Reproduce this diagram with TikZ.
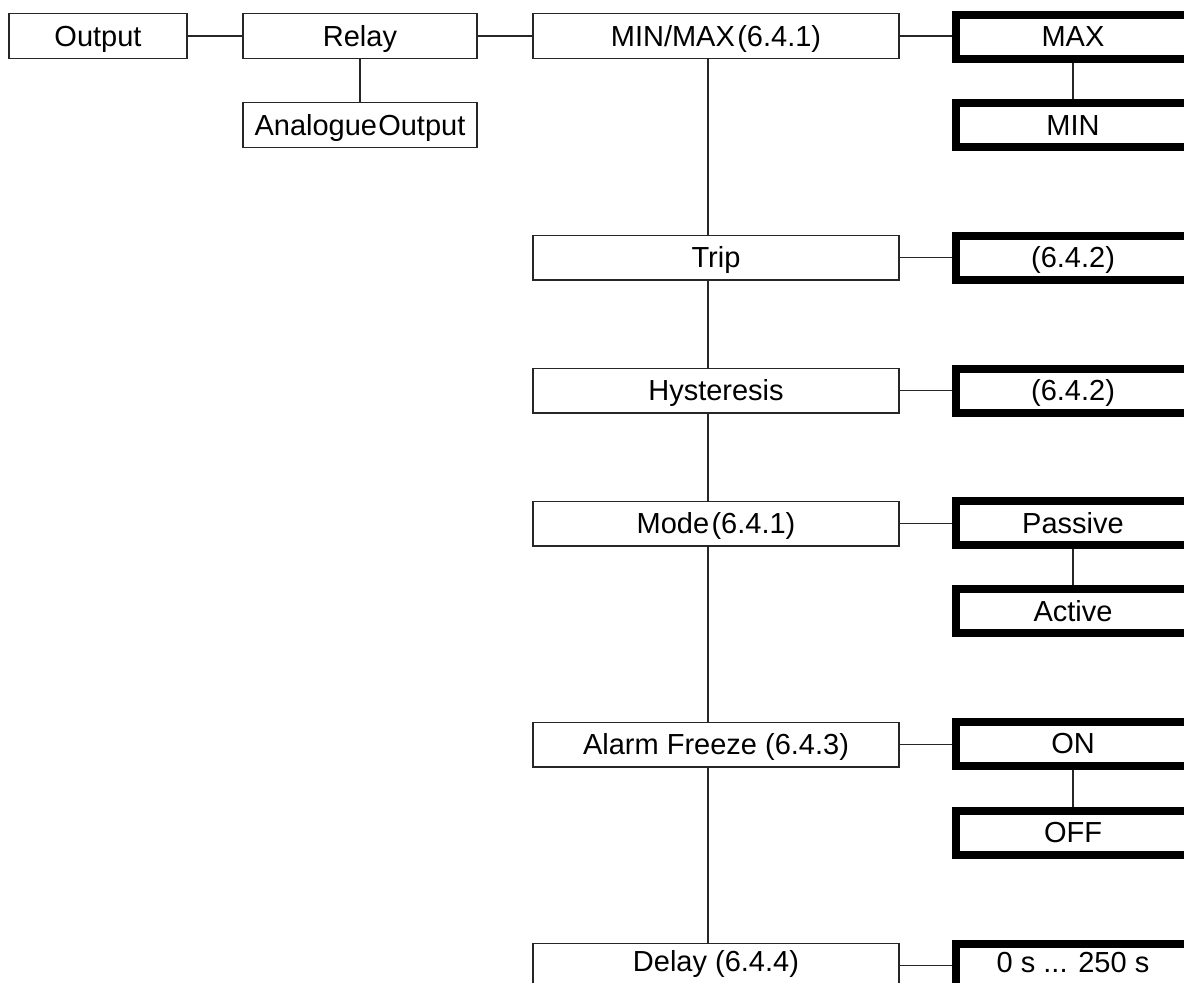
\documentclass[tikz,border=0pt]{standalone}
\usepackage{fontspec}
\setmainfont{Liberation Sans}
\begin{document}
\begin{tikzpicture}[x=0.5pt,y=-0.5pt,
  every node/.style={font=\fontsize{14.5}{17}\selectfont, text height=10.4pt, text depth=0pt, inner sep=0pt},
  thinbox/.style={draw=black!85, line width=0.7pt, minimum height=22.3pt},
  thickbox/.style={draw=black, line width=4pt, minimum height=22pt, minimum width=117pt},
  raised/.style={text depth=4pt},
  link/.style={draw=black!85, line width=0.7pt}]
  \useasboundingbox (0,0) rectangle (1184,982);
  \fill[white] (0,0) rectangle (1184,982);
  \clip (0,0) rectangle (1184,982);

  % menu tree, left part
  \node[thinbox, minimum width=89pt]  (output)   at (98,36)    {Output};
  \node[thinbox, minimum width=117pt] (relay)    at (360,36)   {Relay};
  \node[thinbox, minimum width=117pt] (analogue) at (360,125)  {Analogue\hspace{0.6pt}Output};

  % relay parameters
  \node[thinbox, minimum width=183pt] (minmax) at (716,36)    {MIN/MAX\hspace{1.2pt}(6.4.1)};
  \node[thinbox, minimum width=183pt] (trip)   at (716,257.5) {Trip};
  \node[thinbox, minimum width=183pt] (hyst)   at (716,390.5) {Hysteresis};
  \node[thinbox, minimum width=183pt] (mode)   at (716,523.5) {Mode\hspace{1.2pt}(6.4.1)};
  \node[thinbox, minimum width=183pt] (freeze) at (716,744.5) {Alarm Freeze (6.4.3)};
  \node[thinbox, raised, minimum width=183pt] (delay)  at (716,965.5) {Delay (6.4.4)};

  % selectable values
  \node[thickbox] (vmax)     at (1073,36.5)  {MAX};
  \node[thickbox] (vmin)     at (1073,125)   {MIN};
  \node[thickbox] (vtrip)    at (1073,257.5) {(6.4.2)};
  \node[thickbox] (vhyst)    at (1073,390.5) {(6.4.2)};
  \node[thickbox] (vpassive) at (1073,523)   {Passive};
  \node[thickbox] (vactive)  at (1073,611)   {Active};
  \node[thickbox] (von)      at (1073,743.5) {ON};
  \node[thickbox] (voff)     at (1073,832.5) {OFF};
  \node[thickbox, raised] (vdelay) at (1073,966) {0 s ... 250 s};

  \coordinate (trunk) at (708,0);

  % connectors
  \draw[link] (output) -- (relay);
  \draw[link] (relay) -- (minmax);
  \draw[link] (relay) -- (analogue);

  \draw[link] (minmax.south -| trunk) -- (trip.north -| trunk);
  \draw[link] (trip.south -| trunk)   -- (hyst.north -| trunk);
  \draw[link] (hyst.south -| trunk)   -- (mode.north -| trunk);
  \draw[link] (mode.south -| trunk)   -- (freeze.north -| trunk);
  \draw[link] (freeze.south -| trunk) -- (delay.north -| trunk);

  \draw[link] (minmax.east) -- (minmax.east -| vmax.west);
  \draw[link] (trip.east)   -- (vtrip.west);
  \draw[link] (hyst.east)   -- (vhyst.west);
  \draw[link] (mode.east)   -- (mode.east -| vpassive.west);
  \draw[link] (freeze.east) -- (freeze.east -| von.west);
  \draw[link] (delay.east)  -- (delay.east -| vdelay.west);

  \draw[link] (vmax) -- (vmin);
  \draw[link] (vpassive) -- (vactive);
  \draw[link] (von) -- (voff);
\end{tikzpicture}
\end{document}
